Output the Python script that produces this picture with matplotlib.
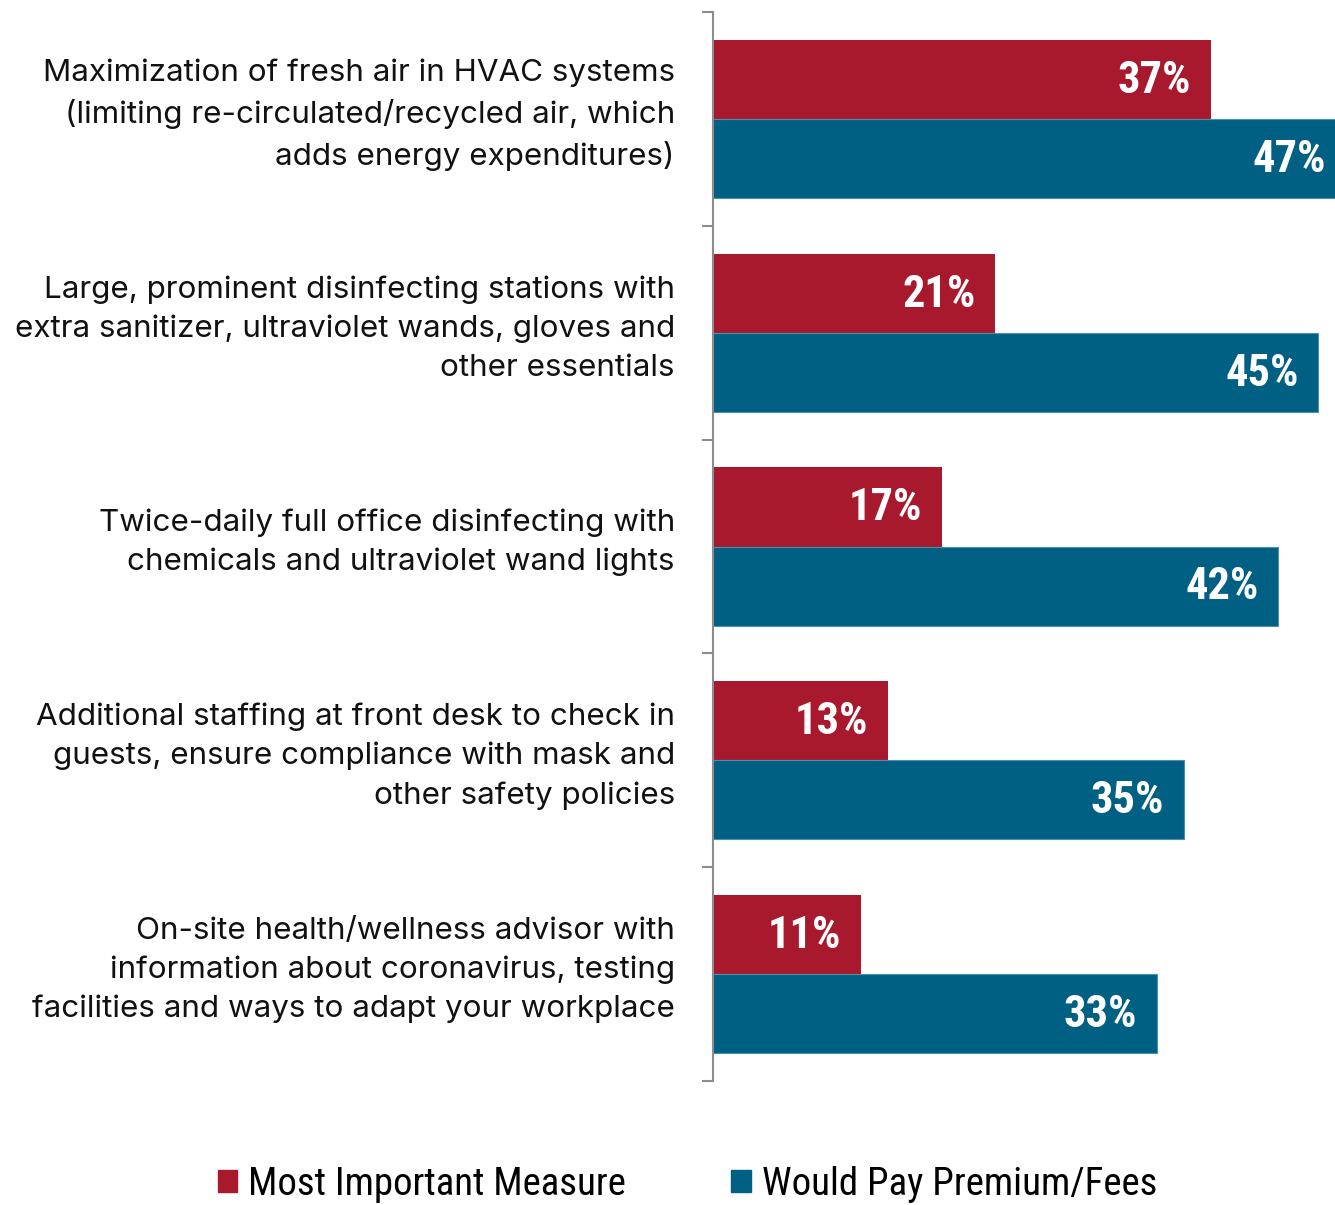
import matplotlib.pyplot as plt
from matplotlib.patches import Patch
from matplotlib.transforms import offset_copy, blended_transform_factory
import numpy as np

measures = [
    "Maximization of fresh air in HVAC systems\n(limiting re-circulated/recycled air, which\nadds energy expenditures)",
    "Large, prominent disinfecting stations with\nextra sanitizer, ultraviolet wands, gloves and\nother essentials",
    "Twice-daily full office disinfecting with\nchemicals and ultraviolet wand lights",
    "Additional staffing at front desk to check in\nguests, ensure compliance with mask and\nother safety policies",
    "On-site health/wellness advisor with\ninformation about coronavirus, testing\nfacilities and ways to adapt your workplace",
]
most_important = [37, 21, 17, 13, 11]
would_pay = [47, 45, 42, 35, 33]
series_names = ["Most Important Measure", "Would Pay Premium/Fees"]

RED = "#A9192D"
BLUE = "#006083"
GREY = "#8c8c8c"

fig = plt.figure(figsize=(13.35, 12.05), dpi=100)
ax = fig.add_axes([713 / 1335, 1 - 1081 / 1205, 1 - 713 / 1335, (1081 - 12) / 1205])

y = np.arange(len(measures))
h = 0.37
bars_red = ax.barh(y - h / 2, most_important, height=h, color=RED)
bars_blue = ax.barh(y + h / 2, would_pay, height=h, color=BLUE,
                    edgecolor="#4f8fab", linewidth=0.8)

ax.set_xlim(0, 46.25)
ax.set_ylim(len(measures) - 0.5, -0.5)

# value labels just inside the bar ends
for bars, vals in [(bars_red, most_important), (bars_blue, would_pay)]:
    for b, v in zip(bars, vals):
        cy = b.get_y() + b.get_height() / 2
        tr = offset_copy(ax.transData, fig=fig, x=-14, y=-1, units="points")
        ax.text(v, cy, f"{v}%", transform=tr, ha="right", va="center",
                color="white", fontsize=32, fontweight="bold",
                family="Roboto Condensed")

# category text to the left of the axis
lab_tr = offset_copy(blended_transform_factory(ax.transAxes, ax.transData),
                     fig=fig, x=-27.5, y=3, units="points")
for yi, text in zip(y, measures):
    ax.text(0, yi, text, transform=lab_tr, ha="right", va="center",
            multialignment="right", family="Inter", fontsize=22.6,
            linespacing=1.48, color="#111111")

# boundary ticks only
ax.set_yticks(np.arange(-0.5, len(measures)), labels=[""] * (len(measures) + 1))
ax.tick_params(axis="y", which="major", length=8, width=1.5, color=GREY)

ax.set_xticks([])
for side in ["top", "right", "bottom"]:
    ax.spines[side].set_visible(False)
ax.spines["left"].set_color(GREY)
ax.spines["left"].set_linewidth(1.5)

handles = [Patch(color=RED), Patch(color=BLUE)]
fig.legend(handles, series_names, loc="lower left", ncol=2,
           bbox_to_anchor=(218 / 1335, 0.002), frameon=False,
           prop={"family": "Roboto Condensed", "size": 28},
           borderpad=0, borderaxespad=0,
           handlelength=0.5, handleheight=0.5, handletextpad=0.28,
           columnspacing=2.7)

fig.savefig("out.png", dpi=100)
